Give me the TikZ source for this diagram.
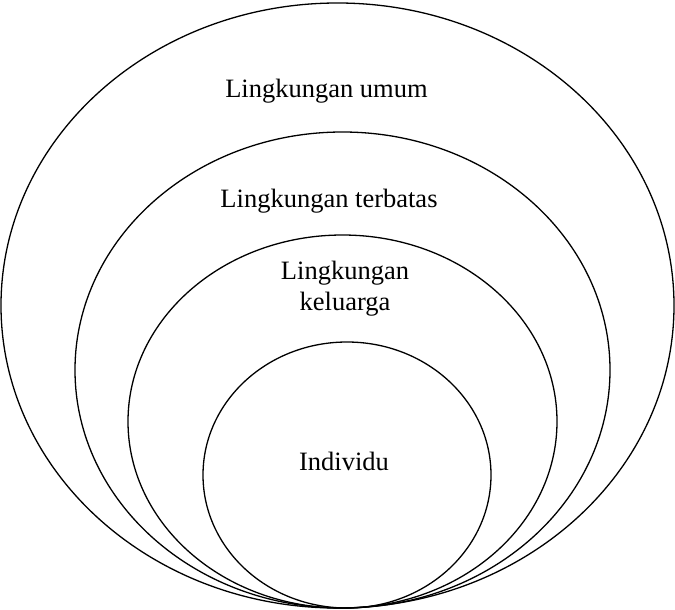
\documentclass[tikz,border=0pt]{standalone}
\usepackage{fontspec}
\setmainfont{Liberation Serif}
\begin{document}
\begin{tikzpicture}[x=1pt,y=-1pt,
  ring/.style={draw=black,line width=1.3pt},
  lbl/.style={font=\fontsize{26.5}{31}\selectfont,align=center,inner sep=0pt}]
\useasboundingbox (0,0) rectangle (675,610);
% nested environments, all touching at the bottom
\draw[ring] (337.5,305.5) ellipse [x radius=336.5, y radius=302.5];
\draw[ring] (342.5,370) ellipse [x radius=267.5, y radius=238];
\draw[ring] (342.5,421.5) ellipse [x radius=214.5, y radius=186.5];
\draw[ring] (347,475) ellipse [x radius=144, y radius=133];
% labels (base anchor of the two-line label sits on its last line)
\node[lbl,anchor=base] (umum) at (326.5,98) {Lingkungan umum};
\node[lbl,anchor=base] (terbatas) at (329,207) {Lingkungan terbatas};
\node[lbl,anchor=base] (keluarga) at (345,310) {Lingkungan\\keluarga};
\node[lbl,anchor=base] (individu) at (344,470) {Individu};
\end{tikzpicture}
\end{document}
